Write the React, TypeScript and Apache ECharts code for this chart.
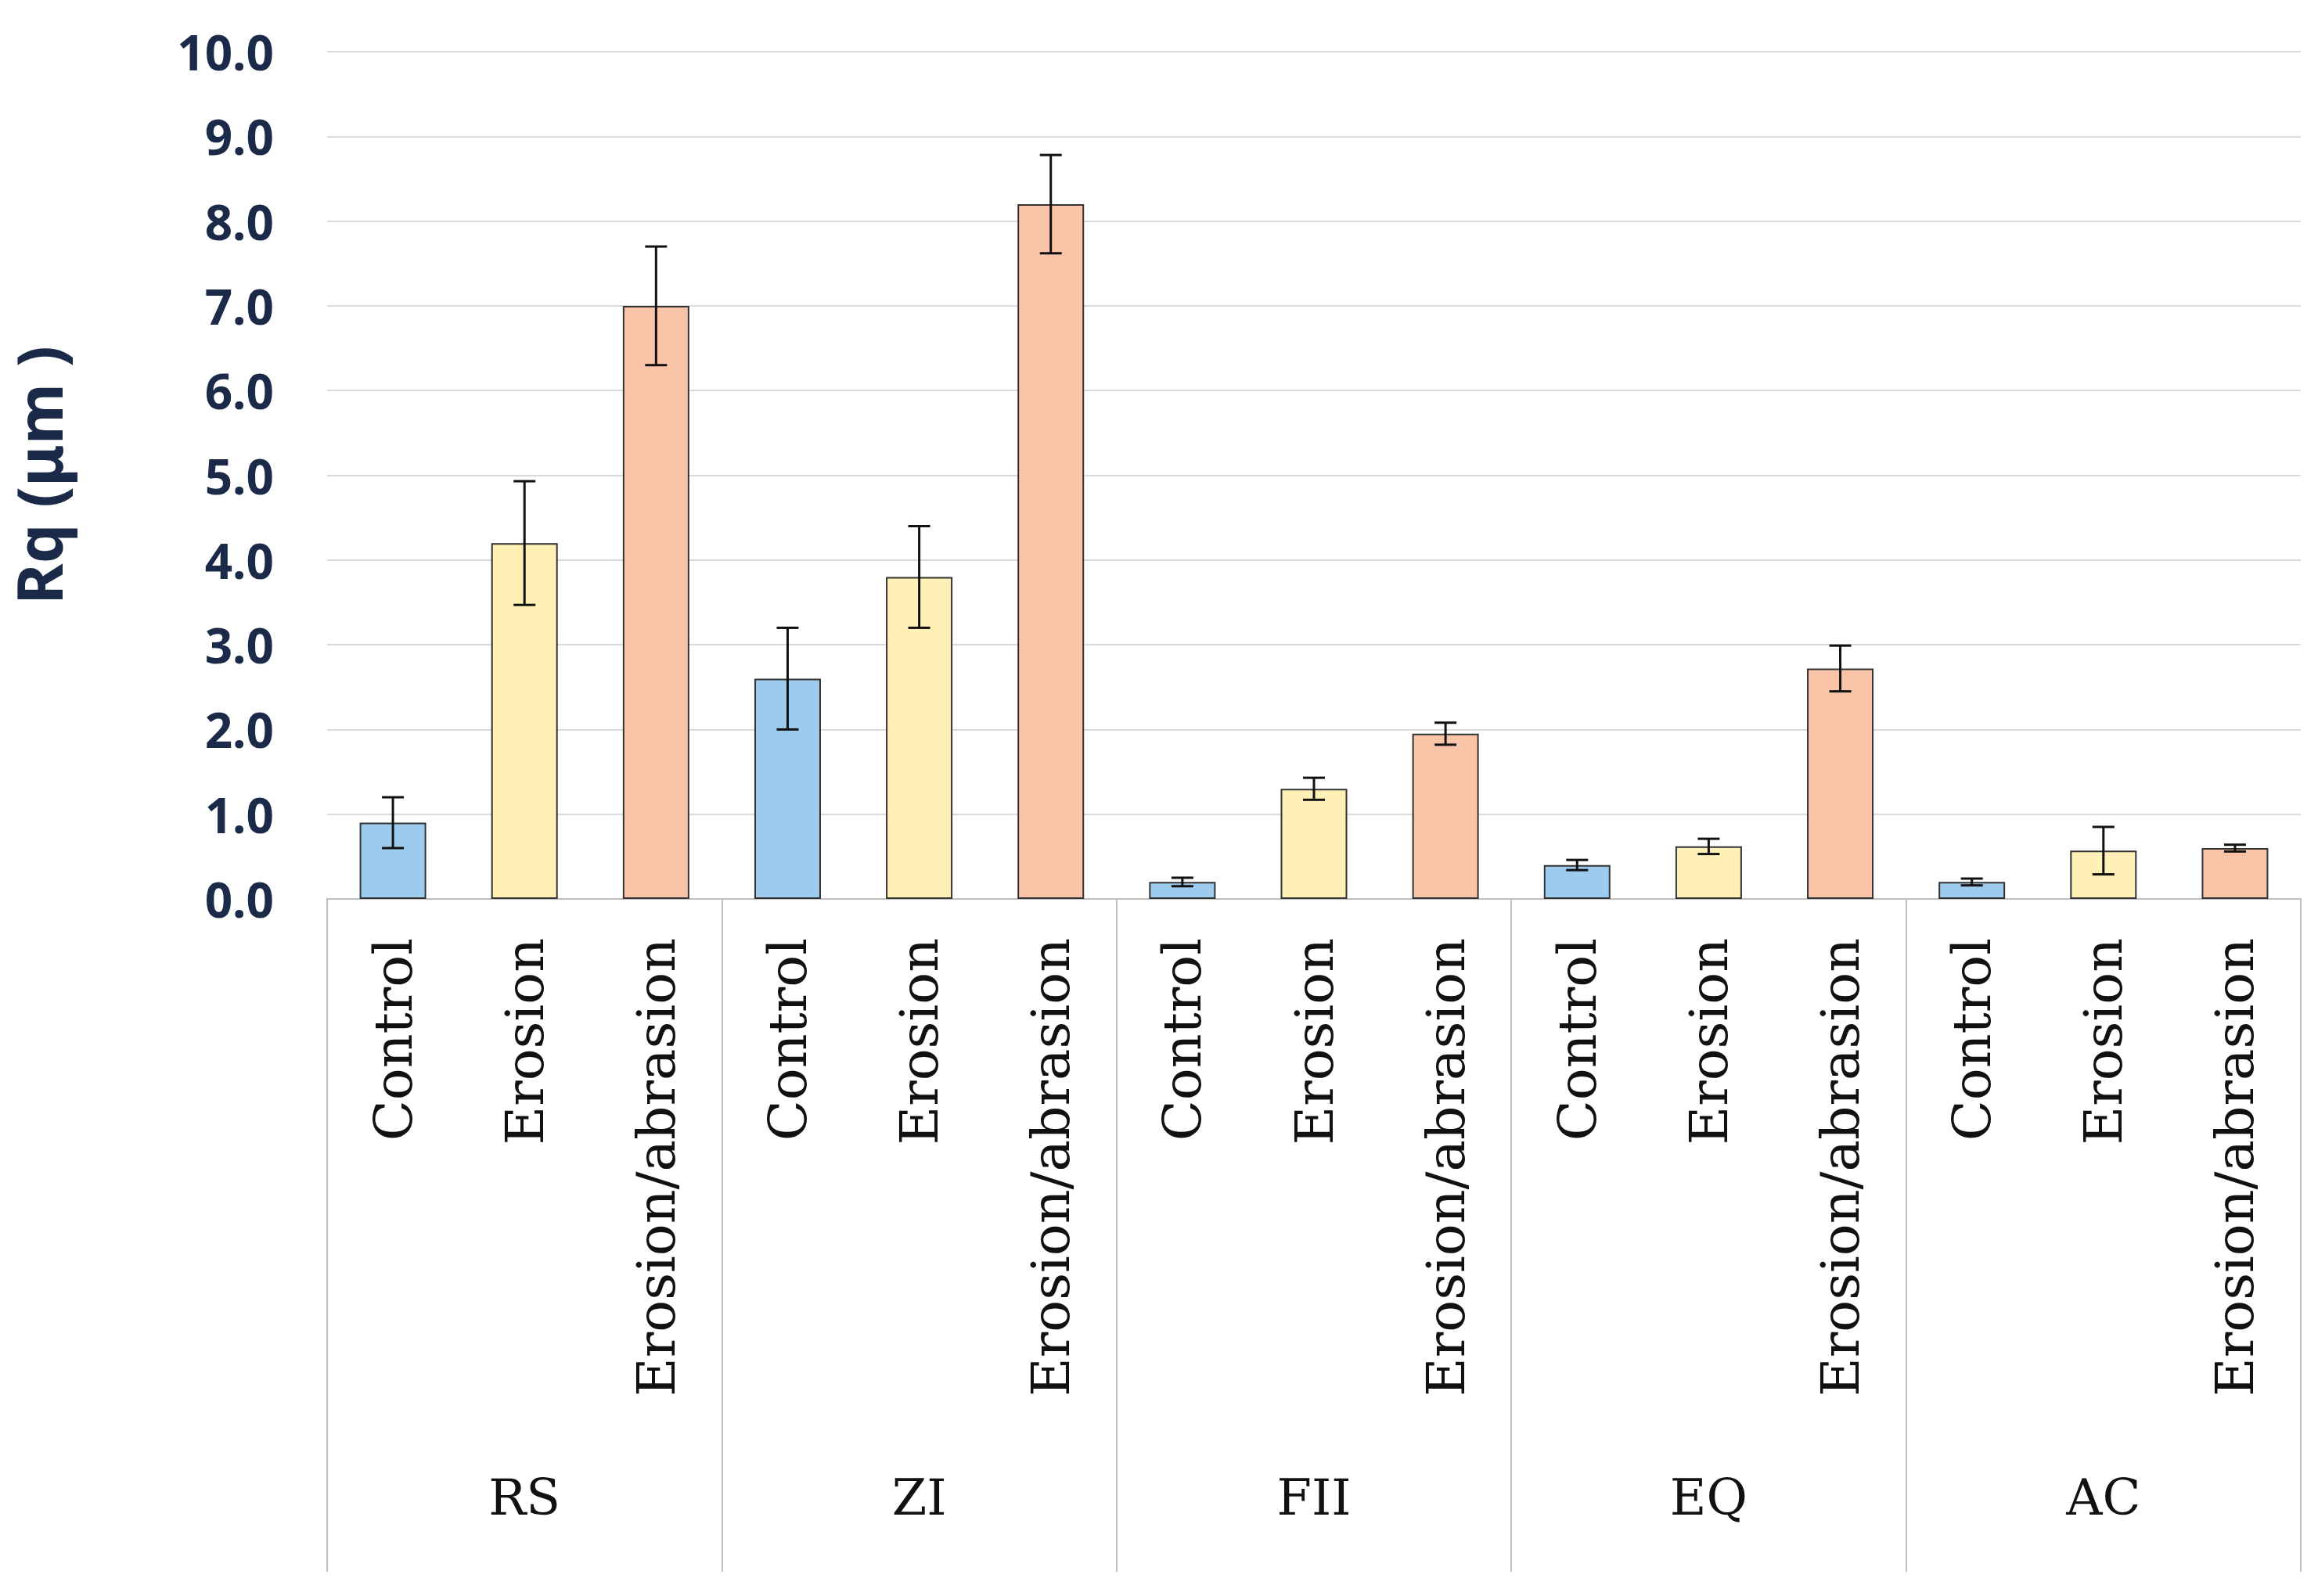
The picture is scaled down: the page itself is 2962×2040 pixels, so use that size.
import React, { useEffect, useRef } from "react";
import * as echarts from "echarts";

const groups = ["RS", "ZI", "FII", "EQ", "AC"];
const treatments = ["Control", "Erosion", "Erosion/abrasion"];
const colors = ["#9DCBEE", "#FFF1B5", "#FAC4A8"];
const means = [0.9, 4.2, 7.0, 2.6, 3.8, 8.2, 0.2, 1.3, 1.95, 0.4, 0.62, 2.72, 0.2, 0.57, 0.6];
const errs = [0.3, 0.73, 0.7, 0.6, 0.6, 0.58, 0.05, 0.13, 0.13, 0.06, 0.09, 0.27, 0.04, 0.28, 0.04];

export default function App() {
  const ref = useRef<HTMLDivElement>(null);
  useEffect(() => {
    document.body.style.margin = "0";
    const chart = echarts.init(ref.current!, null, { renderer: "svg" });
    const cats: string[] = [];
    groups.forEach(() => treatments.forEach((t) => cats.push(t)));
    chart.setOption({
      animation: false,
      grid: { left: 410, right: 22, top: 66, bottom: 891 },
      xAxis: [
        {
          type: "category",
          data: cats,
          axisLine: { lineStyle: { color: "#bfbfbf", width: 2 } },
          axisTick: { show: false },
          axisLabel: {
            rotate: 90,
            interval: 0,
            hideOverlap: false,
            fontFamily: "DejaVu Serif",
            fontSize: 68,
            color: "#111",
            margin: 50,
          },
        },
        {
          type: "category",
          data: groups,
          position: "bottom",
          axisLine: { show: false },
          axisTick: { show: true, length: 860, lineStyle: { color: "#bfbfbf", width: 2 } },
          axisLabel: {
            interval: 0,
            hideOverlap: false,
            fontFamily: "DejaVu Serif",
            fontSize: 64,
            color: "#111",
            margin: 765,
            verticalAlign: "middle",
          },
        },
      ],
      yAxis: {
        type: "value",
        min: 0,
        max: 10,
        interval: 1,
        name: "Rq (μm )",
        nameLocation: "middle",
        nameGap: 330,
        nameTextStyle: { fontFamily: "Noto Sans", fontWeight: "bold", fontSize: 80, color: "#1b2a48" },
        axisLabel: {
          formatter: (v: number) => v.toFixed(1),
          fontFamily: "Noto Sans",
          fontWeight: "bold",
          fontSize: 62,
          color: "#1b2a48",
          margin: 68,
        },
        splitLine: { lineStyle: { color: "#d9d9d9", width: 2 } },
        axisLine: { show: false },
        axisTick: { show: false },
      },
      series: [
        {
          type: "bar",
          xAxisIndex: 0,
          barWidth: 85,
          data: means.map((v, i) => ({
            value: v,
            itemStyle: { color: colors[i % 3], borderColor: "#333", borderWidth: 2 },
          })),
        },
        {
          type: "custom",
          xAxisIndex: 0,
          data: means.map((v, i) => [i, v - errs[i], v + errs[i]]),
          renderItem: (params: any, api: any) => {
            const x = api.value(0);
            const lo = api.coord([x, api.value(1)]);
            const hi = api.coord([x, api.value(2)]);
            const w = 14;
            const st = { stroke: "#111", lineWidth: 3 };
            return {
              type: "group",
              children: [
                { type: "line", shape: { x1: lo[0], y1: lo[1], x2: hi[0], y2: hi[1] }, style: st },
                { type: "line", shape: { x1: lo[0] - w, y1: lo[1], x2: lo[0] + w, y2: lo[1] }, style: st },
                { type: "line", shape: { x1: hi[0] - w, y1: hi[1], x2: hi[0] + w, y2: hi[1] }, style: st },
              ],
            };
          },
          z: 5,
        },
      ],
    });
    return () => chart.dispose();
  }, []);
  return <div ref={ref} style={{ width: 2962, height: 2040, background: "#fff" }} />;
}
